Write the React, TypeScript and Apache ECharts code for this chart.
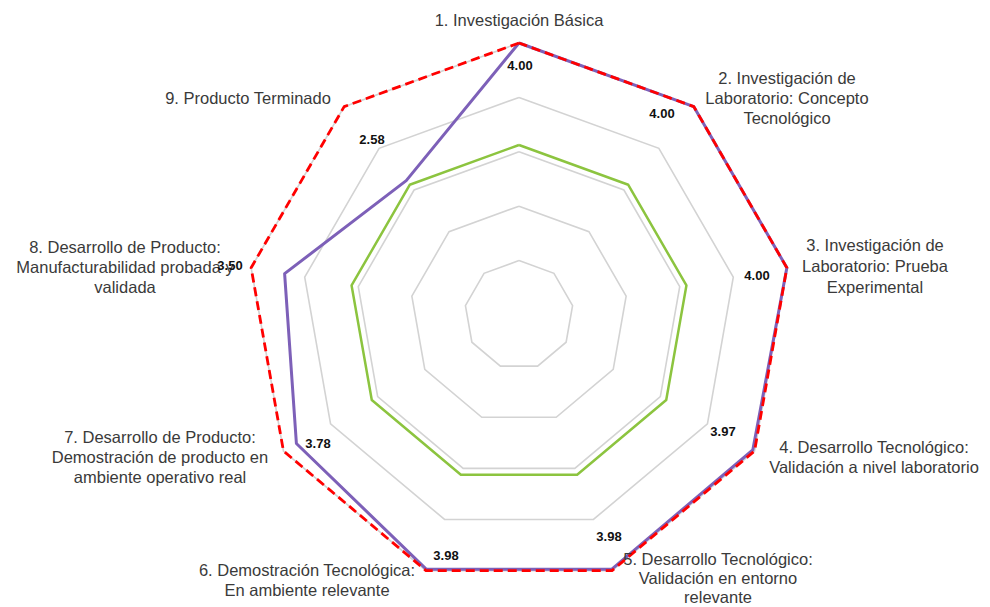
import React, { useEffect, useRef } from 'react';
import * as echarts from 'echarts';

// Categories (clockwise from top)
const categories: string[] = [
  '1. Investigación Básica',
  '2. Investigación de\nLaboratorio: Concepto\nTecnológico',
  '3. Investigación de\nLaboratorio: Prueba\nExperimental',
  '4. Desarrollo Tecnológico:\nValidación a nivel laboratorio',
  '5. Desarrollo Tecnológico:\nValidación en entorno\nrelevante',
  '6. Demostración Tecnológica:\nEn ambiente relevante',
  '7. Desarrollo de Producto:\nDemostración de producto en\nambiente operativo real',
  '8. Desarrollo de Producto:\nManufacturabilidad probada y\nvalidada',
  '9. Producto Terminado',
];

const axisMin = 0;
const axisMax = 4;
const splitCount = 5;

const maxValues: number[] = [4, 4, 4, 4, 4, 4, 4, 4, 4];
const actualValues: number[] = [4.0, 4.0, 4.0, 3.97, 3.98, 3.98, 3.78, 3.5, 2.58];
const baseValues: number[] = [2.5, 2.5, 2.5, 2.5, 2.5, 2.5, 2.5, 2.5, 2.5];

// Layout (text placement)
const categoryLabelPos: [number, number][] = [
  [519, 20],
  [787, 98],
  [875, 266],
  [874, 457],
  [718, 578],
  [307, 580],
  [160, 457],
  [125, 267],
  [248, 98],
];
const categoryLineHeight: number[] = [20, 20, 21, 20, 19, 20, 20, 20, 20];
const valueLabelPos: [number, number][] = [
  [520, 65],
  [662, 113],
  [757, 275],
  [723, 431],
  [609, 536],
  [446, 555],
  [318, 443],
  [230, 265],
  [372, 139],
];

// ECharts radar goes counter-clockwise; reorder so the chart reads clockwise.
const order = [0, 8, 7, 6, 5, 4, 3, 2, 1];
const reorder = (arr: number[]) => order.map((i) => arr[i]);

export default function App() {
  const ref = useRef<HTMLDivElement>(null);

  useEffect(() => {
    if (!ref.current) return;
    const chart = echarts.init(ref.current, undefined, { renderer: 'svg' });
    const font = "'Liberation Sans', Arial, sans-serif";

    const graphics: any[] = [];
    categories.forEach((c, i) => {
      graphics.push({
        type: 'text',
        x: categoryLabelPos[i][0],
        y: categoryLabelPos[i][1],
        z: 10,
        style: {
          text: c,
          fill: '#3a3a3a',
          fontSize: 16.5,
          fontFamily: font,
          align: 'center',
          verticalAlign: 'middle',
          lineHeight: categoryLineHeight[i],
        },
      });
    });
    actualValues.forEach((v, i) => {
      graphics.push({
        type: 'text',
        x: valueLabelPos[i][0],
        y: valueLabelPos[i][1],
        z: 11,
        style: {
          text: v.toFixed(2),
          fill: '#111111',
          fontSize: 13,
          fontWeight: 'bold',
          fontFamily: font,
          align: 'center',
          verticalAlign: 'middle',
        },
      });
    });

    chart.setOption({
      animation: false,
      backgroundColor: '#ffffff',
      radar: {
        center: [519, 315],
        radius: 272,
        startAngle: 90,
        shape: 'polygon',
        splitNumber: splitCount,
        indicator: order.map((i) => ({ name: categories[i], min: axisMin, max: axisMax })),
        axisName: { show: false },
        axisLine: { show: false },
        axisTick: { show: false },
        axisLabel: { show: false },
        splitArea: { show: false },
        splitLine: { lineStyle: { color: '#d3d3d3', width: 1.6 } },
      },
      series: [
        {
          type: 'radar',
          symbol: 'none',
          z: 2,
          lineStyle: { color: '#8cc43f', width: 2.5 },
          itemStyle: { color: '#8cc43f' },
          data: [{ name: 'Base', value: reorder(baseValues) }],
        },
        {
          type: 'radar',
          symbol: 'none',
          z: 3,
          lineStyle: { color: '#7d60b8', width: 3 },
          itemStyle: { color: '#7d60b8' },
          data: [{ name: 'Actual', value: reorder(actualValues) }],
        },
        {
          type: 'radar',
          symbol: 'none',
          z: 4,
          lineStyle: { color: '#ff0000', width: 2.8, type: [9, 5] },
          itemStyle: { color: '#ff0000' },
          data: [{ name: 'Máximo', value: reorder(maxValues) }],
        },
      ],
      graphic: graphics,
    });

    return () => chart.dispose();
  }, []);

  return (
    <div
      ref={ref}
      style={{ position: 'fixed', left: 0, top: 0, width: 990, height: 607 }}
    />
  );
}
